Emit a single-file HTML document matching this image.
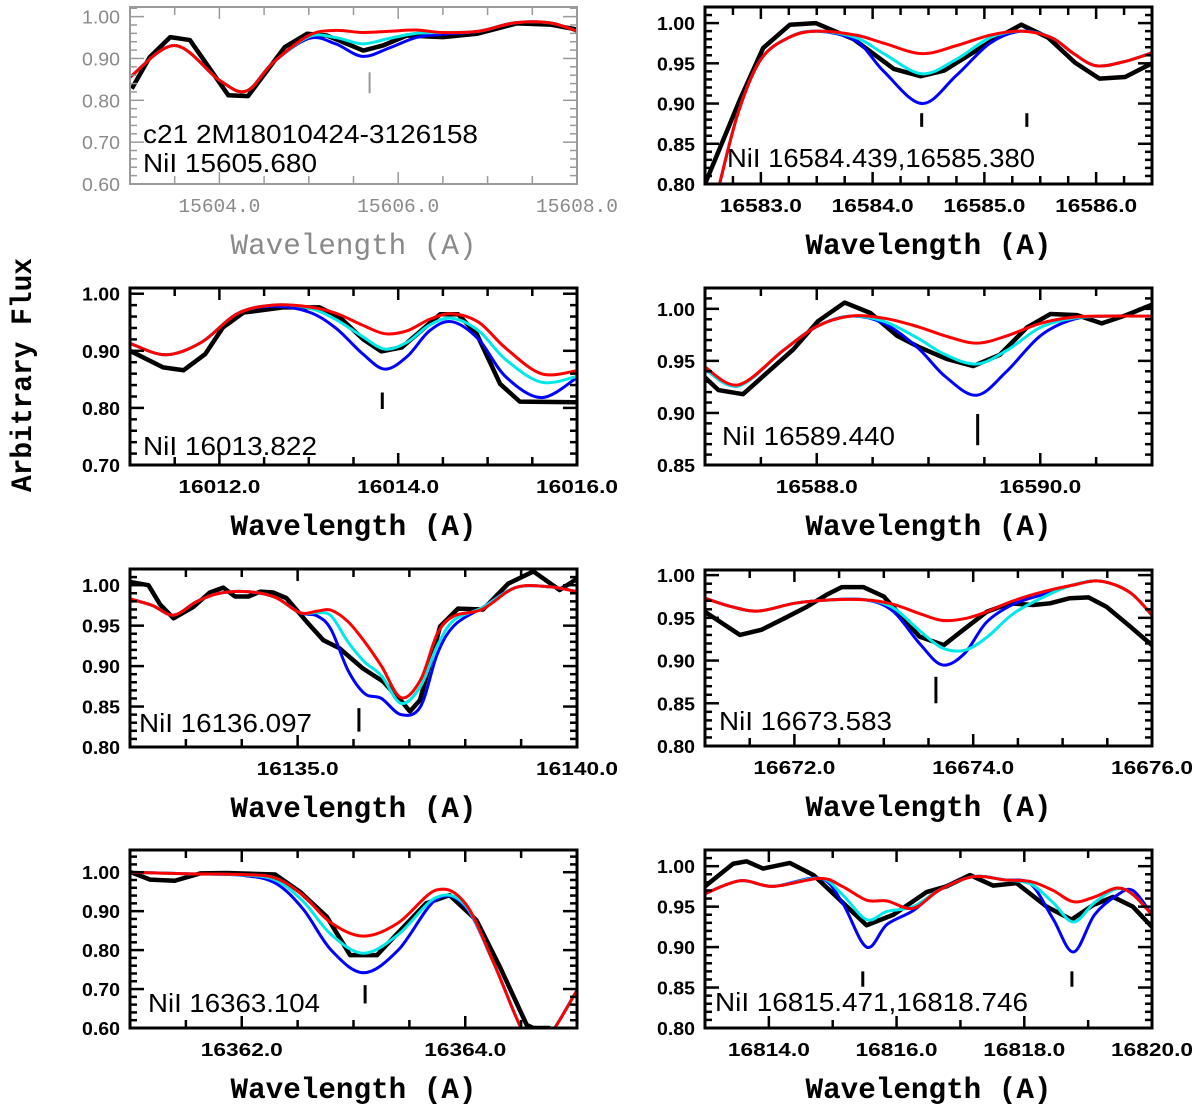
<!DOCTYPE html>
<html><head><meta charset="utf-8"><style>
html,body{margin:0;padding:0;background:#fff;}
svg{display:block;}
</style></head><body>
<svg id="fig" width="1200" height="1110" viewBox="0 0 1200 1110" xmlns="http://www.w3.org/2000/svg"></svg>
<script>
// ---------- data ----------
const p1ObsX=[15603.02,15603.22,15603.45,15603.67,15604.10,15604.32,15604.73,15604.98,15605.20,15605.61,15605.83,15606.1,15606.5,15606.88,15607.33,15607.7,15608];
const p1ObsY=[0.828,0.903,0.951,0.944,0.812,0.810,0.927,0.959,0.955,0.919,0.931,0.955,0.951,0.959,0.984,0.981,0.969];
const p1ModX=[15603.0,15603.5,15604.0,15604.3,15604.6,15605.0,15605.3,15605.6,15605.9,15606.2,15606.5,15606.9,15607.3,15607.7,15608.0];
const p1Red=[0.855,0.931,0.848,0.822,0.89,0.955,0.967,0.962,0.965,0.968,0.962,0.965,0.985,0.985,0.965];
const p1Cyan=[0.855,0.931,0.848,0.822,0.89,0.952,0.950,0.935,0.948,0.960,0.962,0.965,0.985,0.985,0.965];
const p1Blue=[0.855,0.931,0.848,0.822,0.89,0.948,0.935,0.905,0.925,0.950,0.958,0.965,0.985,0.985,0.965];
const p1XTicks=[15604,15606,15608];
const p1YTicks=[0.6,0.7,0.8,0.9,1.0];
const p1Lines=[15605.68];

const p2ObsX=[16582.5,16582.81,16583.02,16583.26,16583.49,16583.83,16584.19,16584.43,16584.64,16585.09,16585.33,16585.57,16585.81,16586.03,16586.26,16586.5];
const p2ObsY=[0.80,0.904,0.969,0.998,1.0,0.98,0.943,0.934,0.941,0.98,0.998,0.982,0.951,0.931,0.933,0.95];
const p2ModX=[16582.63,16582.8,16583.0,16583.25,16583.5,16583.85,16584.1,16584.44,16584.75,16585.05,16585.33,16585.6,16585.8,16586.0,16586.25,16586.5];
const p2Red=[0.80,0.89,0.955,0.982,0.99,0.985,0.975,0.962,0.972,0.985,0.99,0.982,0.962,0.947,0.952,0.963];
const p2Cyan=[0.80,0.89,0.955,0.982,0.99,0.982,0.962,0.937,0.955,0.982,0.99,0.982,0.962,0.947,0.952,0.963];
const p2Blue=[0.80,0.89,0.955,0.982,0.99,0.978,0.94,0.900,0.935,0.975,0.99,0.982,0.962,0.947,0.952,0.963];
const p2XTicks=[16583,16584,16585,16586];
const p2YTicks=[0.80,0.85,0.90,0.95,1.00];
const p2Lines=[16584.439,16585.380];

const p3ObsX=[16011.0,16011.37,16011.6,16011.84,16012.04,16012.27,16012.71,16013.12,16013.35,16013.61,16013.81,16014.04,16014.47,16014.67,16014.88,16015.14,16015.36,16016.0];
const p3ObsY=[0.90,0.871,0.866,0.894,0.941,0.967,0.976,0.976,0.958,0.920,0.899,0.906,0.964,0.964,0.929,0.842,0.811,0.810];
const p3ModX=[16011.0,16011.4,16011.8,16012.2,16012.6,16013.0,16013.3,16013.6,16013.85,16014.1,16014.35,16014.6,16014.9,16015.2,16015.6,16016.0];
const p3Red=[0.913,0.893,0.915,0.965,0.98,0.977,0.966,0.945,0.93,0.935,0.955,0.965,0.95,0.905,0.86,0.865];
const p3Cyan=[0.913,0.893,0.915,0.965,0.98,0.975,0.955,0.925,0.903,0.915,0.945,0.957,0.935,0.885,0.845,0.855];
const p3Blue=[0.913,0.893,0.915,0.965,0.978,0.968,0.94,0.895,0.868,0.89,0.935,0.951,0.92,0.855,0.818,0.853];
const p3XTicks=[16012,16014,16016];
const p3YTicks=[0.7,0.8,0.9,1.0];
const p3Lines=[16013.822];

const p4ObsX=[16587.0,16587.12,16587.34,16587.79,16588.01,16588.25,16588.48,16588.72,16588.92,16589.16,16589.4,16589.64,16589.88,16590.09,16590.33,16590.55,16590.77,16591.0];
const p4ObsY=[0.934,0.922,0.918,0.961,0.988,1.006,0.996,0.974,0.963,0.952,0.945,0.956,0.982,0.995,0.994,0.986,0.994,1.004];
const p4ModX=[16587.0,16587.3,16587.7,16588.0,16588.3,16588.6,16588.9,16589.15,16589.43,16589.7,16590.0,16590.3,16590.6,16591.0];
const p4Red=[0.944,0.927,0.96,0.983,0.993,0.991,0.983,0.974,0.967,0.974,0.986,0.992,0.993,0.993];
const p4Cyan=[0.942,0.926,0.96,0.983,0.993,0.988,0.972,0.956,0.947,0.96,0.982,0.991,0.993,0.993];
const p4Blue=[0.942,0.926,0.96,0.983,0.993,0.986,0.963,0.935,0.917,0.94,0.974,0.99,0.993,0.993];
const p4XTicks=[16588,16590];
const p4YTicks=[0.85,0.90,0.95,1.00];
const p4Lines=[16589.440];

const p5ObsX=[16132.0,16132.33,16132.54,16132.78,16133.13,16133.43,16133.67,16133.88,16134.12,16134.33,16134.56,16134.8,16135.16,16135.46,16135.75,16136.17,16136.53,16136.89,16137.01,16137.19,16137.55,16137.87,16138.32,16138.77,16139.22,16139.69,16140.0];
const p5ObsY=[1.004,1.0,0.976,0.959,0.973,0.991,0.997,0.986,0.986,0.992,0.991,0.984,0.955,0.932,0.922,0.897,0.881,0.854,0.844,0.858,0.949,0.971,0.970,1.002,1.017,0.994,1.008];
const p5ModX=[16132.0,16132.4,16132.78,16133.2,16133.6,16134.1,16134.6,16135.04,16135.35,16135.6,16135.9,16136.2,16136.5,16136.85,16137.2,16137.5,16137.8,16138.3,16138.9,16139.5,16140.0];
const p5Red=[0.983,0.975,0.963,0.98,0.99,0.992,0.985,0.966,0.968,0.969,0.955,0.93,0.9,0.861,0.883,0.94,0.962,0.97,0.997,0.998,0.992];
const p5Cyan=[0.983,0.975,0.963,0.98,0.99,0.992,0.985,0.966,0.966,0.962,0.93,0.905,0.888,0.854,0.875,0.925,0.957,0.972,0.997,0.998,0.992];
const p5Blue=[0.983,0.975,0.963,0.98,0.99,0.992,0.985,0.966,0.962,0.945,0.895,0.866,0.86,0.84,0.85,0.915,0.95,0.972,0.997,0.998,0.992];
const p5XTicks=[16135,16140];
const p5YTicks=[0.80,0.85,0.90,0.95,1.00];
const p5Lines=[16136.097];

const p6ObsX=[16671.0,16671.39,16671.63,16671.88,16672.14,16672.36,16672.53,16672.77,16673.0,16673.4,16673.67,16673.89,16674.15,16674.41,16674.67,16674.86,16675.08,16675.29,16675.49,16675.72,16676.0];
const p6ObsY=[0.957,0.930,0.936,0.949,0.963,0.977,0.986,0.986,0.975,0.928,0.918,0.936,0.957,0.967,0.965,0.967,0.973,0.974,0.963,0.943,0.918];
const p6ModX=[16671.0,16671.3,16671.6,16672.0,16672.4,16672.8,16673.1,16673.4,16673.65,16673.9,16674.15,16674.45,16674.8,16675.1,16675.42,16675.75,16676.0];
const p6Red=[0.973,0.963,0.958,0.967,0.971,0.971,0.966,0.955,0.947,0.949,0.957,0.97,0.981,0.988,0.993,0.98,0.953];
const p6Cyan=[0.973,0.963,0.958,0.967,0.971,0.971,0.962,0.935,0.915,0.912,0.927,0.955,0.975,0.988,0.993,0.98,0.953];
const p6Blue=[0.973,0.963,0.958,0.967,0.971,0.971,0.958,0.92,0.895,0.908,0.945,0.966,0.978,0.988,0.993,0.98,0.953];
const p6XTicks=[16672,16674,16676];
const p6YTicks=[0.80,0.85,0.90,0.95,1.00];
const p6Lines=[16673.583];

const p7ObsX=[16361.0,16361.18,16361.4,16361.63,16361.87,16362.3,16362.52,16362.76,16362.97,16363.21,16363.42,16363.65,16363.86,16364.1,16364.31,16364.55,16364.61,16364.75,16364.9];
const p7ObsY=[1.001,0.981,0.978,0.997,0.998,0.994,0.95,0.886,0.787,0.787,0.851,0.92,0.941,0.877,0.757,0.608,0.60,0.60,0.55];
const p7ModX=[16361.0,16361.5,16362.0,16362.3,16362.55,16362.8,16363.09,16363.4,16363.74,16364.0,16364.25,16364.5,16364.65,16364.8,16365.0];
const p7Red=[1.0,0.996,0.994,0.985,0.94,0.87,0.836,0.87,0.954,0.92,0.77,0.6,0.55,0.6,0.697];
const p7Cyan=[1.0,0.996,0.993,0.98,0.925,0.84,0.792,0.84,0.935,0.915,0.77,0.6,0.55,0.6,0.697];
const p7Blue=[1.0,0.996,0.992,0.972,0.905,0.8,0.742,0.8,0.93,0.912,0.77,0.6,0.55,0.6,0.697];
const p7XTicks=[16362,16364];
const p7YTicks=[0.6,0.7,0.8,0.9,1.0];
const p7Lines=[16363.104];

const p8ObsX=[16813.0,16813.44,16813.65,16813.91,16814.33,16814.7,16815.01,16815.53,16815.95,16816.47,16816.78,16817.15,16817.51,16817.88,16818.35,16818.74,16819.08,16819.39,16819.7,16820.0];
const p8ObsY=[0.975,1.003,1.006,0.997,1.004,0.989,0.966,0.927,0.94,0.968,0.975,0.989,0.976,0.979,0.95,0.934,0.952,0.962,0.95,0.925];
const p8ModX=[16813.0,16813.55,16814.07,16814.8,16815.15,16815.53,16815.85,16816.26,16816.68,16817.2,16817.7,16818.1,16818.45,16818.77,16819.1,16819.45,16819.7,16820.0];
const p8Red=[0.966,0.982,0.975,0.985,0.975,0.958,0.957,0.948,0.971,0.987,0.983,0.981,0.97,0.956,0.962,0.973,0.965,0.94];
const p8Cyan=[0.966,0.982,0.975,0.985,0.965,0.934,0.944,0.95,0.971,0.987,0.983,0.978,0.955,0.931,0.955,0.972,0.965,0.94];
const p8Blue=[0.966,0.982,0.975,0.985,0.955,0.90,0.928,0.945,0.971,0.987,0.983,0.978,0.935,0.894,0.94,0.964,0.97,0.94];
const p8XTicks=[16814,16816,16818,16820];
const p8YTicks=[0.80,0.85,0.90,0.95,1.00];
const p8Lines=[16815.471,16818.746];

// ---------- layout ----------
const panels=[
 {n:1,x0:130,x1:577,y0:7,y1:184,xmin:15603,xmax:15608,ymin:0.6,ymax:1.023,xm:0.5,ym:0.02,gray:true,ox:p1ObsX,oy:p1ObsY,mx:p1ModX,r:p1Red,c:p1Cyan,b:p1Blue,xt:p1XTicks,yt:p1YTicks,ln:p1Lines,lnA:0.817,lnB:0.867,labels:[["c21 2M18010424-3126158",143,143,335],["NiI 15605.680",143,172,174]]},
 {n:2,x0:705,x1:1152,y0:7,y1:184,xmin:16582.5,xmax:16586.5,ymin:0.8,ymax:1.02,xm:0.25,ym:0.01,ox:p2ObsX,oy:p2ObsY,mx:p2ModX,r:p2Red,c:p2Cyan,b:p2Blue,xt:p2XTicks,yt:p2YTicks,ln:p2Lines,lnA:0.871,lnB:0.888,labels:[["NiI 16584.439,16585.380",727,167,308]]},
 {n:3,x0:130,x1:577,y0:288,y1:465,xmin:16011,xmax:16016,ymin:0.7,ymax:1.01,xm:0.5,ym:0.02,ox:p3ObsX,oy:p3ObsY,mx:p3ModX,r:p3Red,c:p3Cyan,b:p3Blue,xt:p3XTicks,yt:p3YTicks,ln:p3Lines,lnA:0.798,lnB:0.827,labels:[["NiI 16013.822",143,455,174]]},
 {n:4,x0:705,x1:1152,y0:288,y1:465,xmin:16587,xmax:16591,ymin:0.85,ymax:1.02,xm:0.5,ym:0.01,ox:p4ObsX,oy:p4ObsY,mx:p4ModX,r:p4Red,c:p4Cyan,b:p4Blue,xt:p4XTicks,yt:p4YTicks,ln:p4Lines,lnA:0.869,lnB:0.899,labels:[["NiI 16589.440",722,445,173]]},
 {n:5,x0:130,x1:577,y0:569,y1:747,xmin:16132,xmax:16140,ymin:0.8,ymax:1.02,xm:1,ym:0.01,ox:p5ObsX,oy:p5ObsY,mx:p5ModX,r:p5Red,c:p5Cyan,b:p5Blue,xt:p5XTicks,yt:p5YTicks,ln:p5Lines,lnA:0.819,lnB:0.848,labels:[["NiI 16136.097",139,732,173]]},
 {n:6,x0:705,x1:1152,y0:570,y1:746,xmin:16671,xmax:16676,ymin:0.8,ymax:1.006,xm:0.5,ym:0.01,ox:p6ObsX,oy:p6ObsY,mx:p6ModX,r:p6Red,c:p6Cyan,b:p6Blue,xt:p6XTicks,yt:p6YTicks,ln:p6Lines,lnA:0.85,lnB:0.881,labels:[["NiI 16673.583",719,730,173]]},
 {n:7,x0:130,x1:577,y0:850,y1:1028,xmin:16361,xmax:16365,ymin:0.6,ymax:1.057,xm:0.5,ym:0.02,ox:p7ObsX,oy:p7ObsY,mx:p7ModX,r:p7Red,c:p7Cyan,b:p7Blue,xt:p7XTicks,yt:p7YTicks,ln:p7Lines,lnA:0.663,lnB:0.71,labels:[["NiI 16363.104",148,1012,172]]},
 {n:8,x0:705,x1:1152,y0:850,y1:1028,xmin:16813,xmax:16820,ymin:0.8,ymax:1.02,xm:1,ym:0.01,ox:p8ObsX,oy:p8ObsY,mx:p8ModX,r:p8Red,c:p8Cyan,b:p8Blue,xt:p8XTicks,yt:p8YTicks,ln:p8Lines,lnA:0.851,lnB:0.87,labels:[["NiI 16815.471,16818.746",715,1011,313]]}
];

const NS="http://www.w3.org/2000/svg";
const svg=document.getElementById('fig');
function mk(tag,attrs,parent){const e=document.createElementNS(NS,tag);for(const k in attrs)e.setAttribute(k,attrs[k]);(parent||svg).appendChild(e);return e;}
function smooth(pts){
  if(pts.length<2)return '';
  let d='M'+pts[0][0].toFixed(2)+','+pts[0][1].toFixed(2);
  for(let i=0;i<pts.length-1;i++){
    const p0=pts[Math.max(0,i-1)],p1=pts[i],p2=pts[i+1],p3=pts[Math.min(pts.length-1,i+2)];
    const c1=[p1[0]+(p2[0]-p0[0])/6,p1[1]+(p2[1]-p0[1])/6];
    const c2=[p2[0]-(p3[0]-p1[0])/6,p2[1]-(p3[1]-p1[1])/6];
    d+=' C'+c1[0].toFixed(2)+','+c1[1].toFixed(2)+' '+c2[0].toFixed(2)+','+c2[1].toFixed(2)+' '+p2[0].toFixed(2)+','+p2[1].toFixed(2);
  }
  return d;
}

const defs=mk('defs',{});
panels.forEach(P=>{
  const sx=v=>P.x0+(v-P.xmin)/(P.xmax-P.xmin)*(P.x1-P.x0);
  const sy=v=>P.y1-(v-P.ymin)/(P.ymax-P.ymin)*(P.y1-P.y0);
  const axc=P.gray?'#9a9a9a':'#000';
  const txc=P.gray?'#8a8a8a':'#000';
  const g=mk('g',{});
  
  
  const cp=mk('clipPath',{id:'clip'+P.n},defs);
  mk('rect',{x:P.x0,y:P.y0,width:P.x1-P.x0,height:P.y1-P.y0},cp);

  // curves
  const cg=mk('g',{'clip-path':'url(#clip'+P.n+')'},g);
  const obs=mk('polyline',{points:P.ox.map((x,i)=>sx(x).toFixed(2)+','+sy(P.oy[i]).toFixed(2)).join(' '),fill:'none',stroke:'#000','stroke-width':4.5,'stroke-linejoin':'round'},cg);
  
  
  const series=[['blue','#0000ff',P.b],['cyan','#00e8e8',P.c],['red','#ff0000',P.r]];
  series.forEach(s=>{
    const pts=P.mx.map((x,i)=>[sx(x),sy(s[2][i])]);
    const pth=mk('path',{d:smooth(pts),fill:'none',stroke:s[1],'stroke-width':3},cg);
    
    
  });

  // frame
  const fr=mk('rect',{x:P.x0,y:P.y0,width:P.x1-P.x0,height:P.y1-P.y0,fill:'none',stroke:axc,'stroke-width':P.gray?2:3},g);
  
  

  // x ticks
  const tg=mk('g',{stroke:axc,'stroke-width':P.gray?1.5:2.5},g);
  const nx=Math.round((P.xmax-P.xmin)/P.xm);
  const xStart=Math.ceil(P.xmin/P.xm-1e-6)*P.xm;
  for(let v=xStart;v<=P.xmax+1e-6;v+=P.xm){
    const major=P.xt.some(t=>Math.abs(t-v)<1e-6);
    const L=major?12:8;const x=sx(v);
    mk('line',{x1:x,y1:P.y1,x2:x,y2:P.y1-L},tg);
    mk('line',{x1:x,y1:P.y0,x2:x,y2:P.y0+L},tg);
  }
  const yStart=Math.ceil(P.ymin/P.ym-1e-6)*P.ym;
  for(let v=yStart;v<=P.ymax+1e-6;v+=P.ym){
    const major=P.yt.some(t=>Math.abs(t-v)<1e-6);
    const L=major?14:7;const y=sy(v);
    mk('line',{x1:P.x0,y1:y,x2:P.x0+L,y2:y},tg);
    mk('line',{x1:P.x1,y1:y,x2:P.x1-L,y2:y},tg);
  }
  // tick labels
  P.xt.forEach(t=>{
    const tx=mk('text',{x:sx(t),y:P.y1+28,'text-anchor':'middle',fill:txc,'font-family':P.gray?'"Liberation Mono",monospace':'"Liberation Sans",sans-serif','font-weight':P.gray?'normal':'bold','font-size':P.gray?19:18,textLength:82,lengthAdjust:'spacingAndGlyphs'},g);
    tx.textContent=t.toFixed(1);
    
    
  });
  P.yt.forEach(t=>{
    const tx=mk('text',{x:P.x0-10,y:sy(t)+7,'text-anchor':'end',fill:txc,'font-family':'"Liberation Sans",sans-serif','font-weight':P.gray?'normal':'bold','font-size':18,textLength:38,lengthAdjust:'spacingAndGlyphs'},g);
    tx.textContent=t.toFixed(2);
    
    
  });
  // axis title
  const xt=mk('text',{x:(P.x0+P.x1)/2,y:P.y1+70,'text-anchor':'middle',fill:txc,'font-family':'"Liberation Mono",monospace','font-weight':P.gray?'normal':'bold','font-size':30,textLength:246,lengthAdjust:'spacingAndGlyphs'},g);
  xt.textContent='Wavelength (A)';
  
  
  // line markers
  P.ln.forEach(w=>{
    const m=mk('line',{x1:sx(w),x2:sx(w),y1:sy(P.lnA),y2:sy(P.lnB),stroke:P.gray?'#999':'#000','stroke-width':P.gray?2:3},g);
    
    
  });
  // annotations
  P.labels.forEach(l=>{
    const a=mk('text',{x:l[1],y:l[2],fill:'#000','font-family':'"Liberation Sans",sans-serif','font-size':26,textLength:l[3],lengthAdjust:'spacingAndGlyphs'},g);
    a.textContent=l[0];
    
    
  });
});

const yt=mk('text',{x:0,y:0,transform:'translate(31,375) rotate(-90)','text-anchor':'middle',fill:'#000','font-family':'"Liberation Mono",monospace','font-weight':'bold','font-size':30,textLength:234,lengthAdjust:'spacingAndGlyphs'});
yt.textContent='Arbitrary Flux';


</script>
</body></html>
